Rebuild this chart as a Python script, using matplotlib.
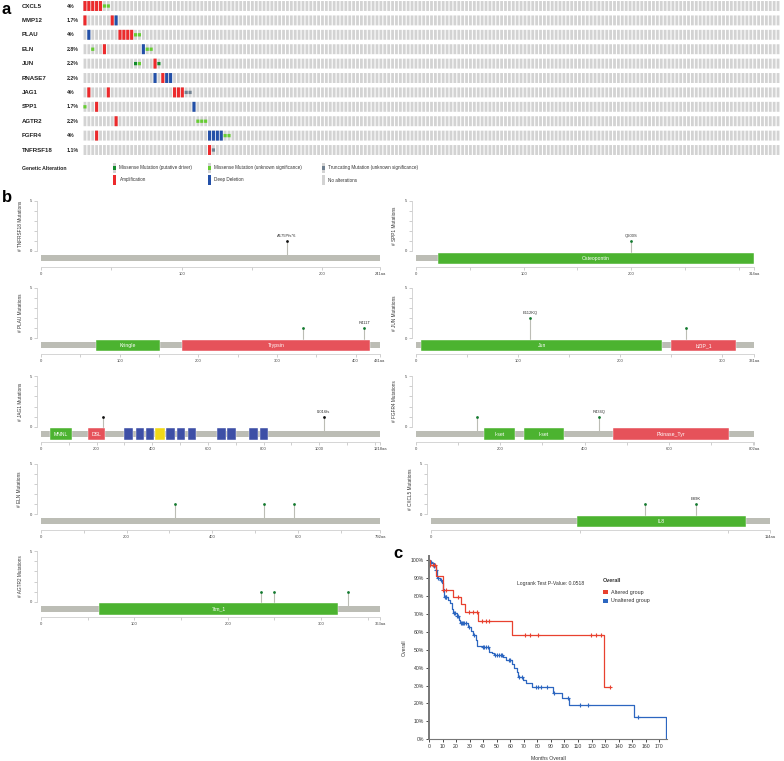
import numpy as np
import matplotlib.pyplot as plt

plt.rcParams['font.family'] = ['Liberation Sans', 'DejaVu Sans']

W, H = 784, 761
fig = plt.figure(figsize=(W / 100, H / 100), dpi=100)


def px_axes(l, t, r, b):
    ax = fig.add_axes([l / W, 1 - b / H, (r - l) / W, (b - t) / H])
    ax.patch.set_alpha(0)
    return ax


# ---------------- data: oncoprint (a) ----------------
n_samples = 179
genes = ['CXCL5', 'MMP12', 'PLAU', 'ELN', 'JUN', 'RNASE7', 'JAG1', 'SPP1', 'AGTR2', 'FGFR4', 'TNFRSF18']
pcts = ['4%', '1.7%', '4%', '2.8%', '2.2%', '2.2%', '4%', '1.7%', '2.2%', '4%', '1.1%']
amp = {'CXCL5': [0, 1, 2, 3, 4], 'MMP12': [0, 7], 'PLAU': [9, 10, 11, 12], 'ELN': [5], 'JUN': [18],
       'RNASE7': [20], 'JAG1': [1, 6, 23, 24, 25], 'SPP1': [3], 'AGTR2': [8], 'FGFR4': [3], 'TNFRSF18': [32]}
deep_del = {'MMP12': [8], 'PLAU': [1], 'ELN': [15], 'RNASE7': [18, 21, 22], 'SPP1': [28], 'FGFR4': [32, 33, 34, 35]}
mis_driver = {'JUN': [13, 19]}
mis_unknown = {'CXCL5': [5, 6], 'PLAU': [13, 14], 'ELN': [2, 16, 17], 'JUN': [14], 'SPP1': [0],
               'AGTR2': [29, 30, 31], 'FGFR4': [36, 37]}
trunc = {'JAG1': [26, 27], 'TNFRSF18': [33]}

# ---------------- data: lollipops (b) ----------------
TNFRSF18_len, TNFRSF18_dom = 241, []
TNFRSF18_mut = [(175, 1, 'trunc', 'A175Pfs*6')]
SPP1_len, SPP1_dom = 314, [('Osteopontin', 20, 314, 'green')]
SPP1_mut = [(200, 1, 'mis', 'Q200S')]
PLAU_len, PLAU_dom = 431, [('Kringle', 70, 151, 'green'), ('Trypsin', 179, 418, 'red')]
PLAU_mut = [(333, 1, 'mis', ''), (411, 1, 'mis', 'R411T')]
JUN_len, JUN_dom = 331, [('Jun', 5, 241, 'green'), ('bZIP_1', 250, 313, 'red')]
JUN_mut = [(112, 2, 'mis', 'E112KQ'), (264, 1, 'mis', '')]
JAG1_len = 1218
JAG1_dom = [('MNNL', 32, 110, 'green'), ('DSL', 168, 230, 'red'),
            ('', 300, 332, 'blue'), ('', 340, 370, 'blue'), ('', 378, 407, 'blue'), ('', 411, 445, 'yellow'),
            ('', 448, 482, 'blue'), ('', 490, 519, 'blue'), ('', 529, 558, 'blue'), ('', 633, 664, 'blue'),
            ('', 670, 701, 'blue'), ('', 748, 778, 'blue'), ('', 786, 815, 'blue')]
JAG1_mut = [(222, 1, 'trunc', ''), (1016, 1, 'trunc', 'I1016fs')]
FGFR4_len = 802
FGFR4_dom = [('I-set', 161, 236, 'green'), ('I-set', 256, 350, 'green'), ('Pkinase_Tyr', 467, 743, 'red')]
FGFR4_mut = [(144, 1, 'mis', ''), (434, 1, 'mis', 'R434Q')]
ELN_len, ELN_dom = 792, []
ELN_mut = [(313, 1, 'mis', ''), (522, 1, 'mis', ''), (591, 1, 'mis', '')]
CXCL5_len, CXCL5_dom = 114, [('IL8', 49, 106, 'green')]
CXCL5_mut = [(72, 1, 'mis', ''), (89, 1, 'mis', 'E89K')]
AGTR2_len, AGTR2_dom = 363, [('7tm_1', 62, 318, 'green')]
AGTR2_mut = [(236, 1, 'mis', ''), (250, 1, 'mis', ''), (329, 1, 'mis', '')]

# ---------------- data: Kaplan-Meier (c) ----------------
alt_t = [0, 0.5, 5.0, 10.0, 18.0, 23.4, 26.6, 36.4, 61.5, 129.2]
alt_s = [100, 97.4, 90.8, 83.5, 79.6, 75.3, 71.2, 66.0, 58.4, 29.2]
alt_cens = [0.7, 3.2, 4.4, 10.6, 12.5, 21.6, 29.8, 32.2, 35.7, 39.4, 41.8, 44.5,
            71.1, 74.6, 80.2, 119.6, 123.3, 126.7, 133.9]
unalt_t = [0, 0.7, 2.0, 3.7, 5.2, 6.2, 8.1, 9.4, 10.1, 11.3, 13.8, 15.5, 17.0, 18.0, 20.4, 22.4, 23.0,
           29.0, 31.0, 32.2, 34.4, 35.7, 38.9, 44.5, 46.2, 48.0, 54.9, 56.8, 61.0, 63.0, 64.7, 66.0,
           69.6, 71.6, 75.8, 91.8, 98.0, 103.6, 151.6, 174.7]
unalt_s = [100, 99.1, 98.1, 96.7, 94.4, 89.8, 88.8, 87.0, 83.6, 79.2, 77.7, 75.8, 72.5, 70.6, 68.8, 66.5, 64.7,
           62.5, 60.6, 58.2, 55.4, 52.0, 51.3, 48.9, 48.0, 47.0, 46.1, 44.2, 42.0, 39.6, 37.7, 34.9,
           33.1, 31.2, 29.0, 26.0, 22.9, 19.1, 12.6, 0]
unalt_cens = [0.9, 1.5, 3.9, 5.5, 6.9, 8.6, 11.8, 12.3, 12.8, 18.3, 18.9, 20.6, 21.4, 23.4, 24.4, 25.4, 26.1,
              27.0, 29.8, 32.9, 39.6, 40.8, 41.8, 43.3, 49.0, 50.0, 51.9, 53.1, 53.9, 58.8, 59.8, 66.4,
              68.4, 79.0, 80.7, 82.4, 86.9, 92.3, 102.4, 111.5, 117.6, 154.5]

C = {'green': '#4cb330', 'red': '#e6525a', 'blue': '#3d4fa6', 'yellow': '#f0d818'}
GREY_BAR = '#bcbdb5'

# overlay in pixel coordinates for free text
ov = px_axes(0, 0, W, H)
ov.set_xlim(0, W)
ov.set_ylim(H, 0)
ov.axis('off')

ov.text(2, 9, 'a', fontsize=12, weight='bold', va='center')
ov.text(2, 198, 'b', fontsize=12, weight='bold', va='center')
ov.text(393, 554, 'c', fontsize=12, weight='bold', va='center')

# ---------------- panel a ----------------
ax = px_axes(83, 0.96, 780, 156.5)
ax.set_xlim(0, n_samples)
ax.set_ylim(10.45, -0.35)
ax.axis('off')
cols = np.arange(n_samples)
cw = 697 / n_samples
for i, g in enumerate(genes):
    ax.bar(cols + 0.5, 0.69, bottom=i - 0.345, width=0.72, color='#d3d3d3', lw=0, snap=False)
    for d, col in [(amp, '#ec2a2c'), (deep_del, '#2350a8')]:
        idx = np.array(d.get(g, []))
        if len(idx):
            ax.bar(idx + 0.5, 0.69, bottom=i - 0.345, width=0.8, color=col, lw=0, snap=False)
    for d, col in [(mis_driver, '#128a2c'), (mis_unknown, '#66cc33'), (trunc, '#708090')]:
        idx = np.array(d.get(g, []))
        if len(idx):
            ax.bar(idx + 0.5, 0.23, bottom=i - 0.115, width=0.8, color=col, lw=0, snap=False)
    ax.text((22 - 83) / cw, i, g, fontsize=4.4, weight='bold', color='#222', va='center', clip_on=False)
    ax.text((66.5 - 83) / cw, i, pcts[i], fontsize=3.8, weight='bold', color='#222', va='center', clip_on=False)

# legend of panel a
ov.text(22, 168, 'Genetic Alteration', fontsize=3.7, weight='bold', color='#222', va='center')
leg_items = [(115, 168, '#128a2c', True, 'Missense Mutation (putative driver)'),
             (210, 168, '#66cc33', True, 'Missense Mutation (unknown significance)'),
             (324, 168, '#708090', True, 'Truncating Mutation (unknown significance)'),
             (115, 180, '#ec2a2c', False, 'Amplification'),
             (210, 180, '#2350a8', False, 'Deep Deletion'),
             (324, 180, '#d3d3d3', False, 'No alterations')]
for x, y, col, small, lab in leg_items:
    if small:
        ov.add_patch(plt.Rectangle((x - 1.5, y - 5), 3, 10, color='#d3d3d3', lw=0))
        ov.add_patch(plt.Rectangle((x - 1.5, y - 1.7), 3, 3.4, color=col, lw=0))
    else:
        ov.add_patch(plt.Rectangle((x - 1.5, y - 5), 3, 10, color=col, lw=0))
    ov.text(x + 4.5, y, lab, fontsize=3.3, color='#333', va='center')


# ---------------- panel b ----------------
def lollipop(name, x0, x1, y0, length, domains, muts, major, minor):
    u = 10.1
    s = (x1 - x0) / length
    ax = px_axes(x0 - 30, y0 - 5.6 * u, x1 + 20, y0 + 2.6 * u)
    ax.set_xlim(-30 / s, length + 20 / s)
    ax.set_ylim(-2.6, 5.6)
    for sp in ['top', 'right']:
        ax.spines[sp].set_visible(False)
    ax.spines['left'].set_position(('data', -4 / s))
    ax.spines['left'].set_bounds(0, 5)
    ax.spines['bottom'].set_position(('data', -1.55))
    ax.spines['bottom'].set_bounds(0, length)
    for sp in ['left', 'bottom']:
        ax.spines[sp].set_color('#cfcfcf')
        ax.spines[sp].set_linewidth(0.6)
    ax.set_yticks(range(6), ['0', '', '', '', '', '5'])
    if major:
        xt = list(range(0, length - major // 4, major)) + [length]
    else:
        xt = [0, length]
    ax.set_xticks(xt, [str(v) for v in xt[:-1]] + [f'{length}aa'])
    ax.set_xticks([v for v in range(minor, length, minor) if v not in xt], minor=True)
    ax.tick_params(axis='both', which='both', length=2, width=0.5, color='#bbbbbb',
                   labelsize=3, labelcolor='#444', pad=1.5)

    ax.barh(-0.7, length, height=0.6, left=0, color=GREY_BAR, lw=0, zorder=2)
    for lab, a, b, c in domains:
        ax.barh(-0.735, b - a, height=1.12, left=a, color=C[c], edgecolor='white', lw=0.3, zorder=3)
        if lab:
            ax.text((a + b) / 2, -0.735, lab, fontsize=3.7, color='white', ha='center', va='center', zorder=4)
    for pos, cnt, kind, lab in muts:
        ax.vlines(pos, -0.4, cnt, color=GREY_BAR, lw=0.8, zorder=1)
        ax.plot(pos, cnt, 'o', ms=2.0, mew=0, color='#111111' if kind == 'trunc' else '#137a2f', zorder=5)
        if lab:
            ax.text(pos, cnt + 0.3, lab, fontsize=3, color='#333', ha='center', va='bottom')
    ax.text(-21 / s, 2.5, f'# {name} Mutations', fontsize=3.4, color='#333', rotation=90,
            ha='center', va='center')


LX0, LX1, RX0, RX1 = 41, 380, 416, 754
rows_y = [251, 338.3, 426.7, 514.3, 601.7]
lollipop('TNFRSF18', LX0, LX1, rows_y[0], TNFRSF18_len, TNFRSF18_dom, TNFRSF18_mut, 100, 50)
lollipop('PLAU', LX0, LX1, rows_y[1], PLAU_len, PLAU_dom, PLAU_mut, 100, 50)
lollipop('JAG1', LX0, LX1, rows_y[2], JAG1_len, JAG1_dom, JAG1_mut, 200, 100)
lollipop('ELN', LX0, LX1, rows_y[3], ELN_len, ELN_dom, ELN_mut, 200, 100)
lollipop('AGTR2', LX0, LX1, rows_y[4], AGTR2_len, AGTR2_dom, AGTR2_mut, 100, 50)
lollipop('SPP1', RX0, RX1, rows_y[0], SPP1_len, SPP1_dom, SPP1_mut, 100, 50)
lollipop('JUN', RX0, RX1, rows_y[1], JUN_len, JUN_dom, JUN_mut, 100, 50)
lollipop('FGFR4', RX0, RX1, rows_y[2], FGFR4_len, FGFR4_dom, FGFR4_mut, 200, 100)
lollipop('CXCL5', 431, 770, rows_y[3], CXCL5_len, CXCL5_dom, CXCL5_mut, None, 50)

# ---------------- panel c ----------------
km = px_axes(429, 560 - 2 * 1.793, 429 + 176 * 1.3547, 739.3)
km.set_xlim(0, 176)
km.set_ylim(0, 102)
RED, BLUE = '#e8412f', '#2c66c0'


def surv_at(t, s, ct):
    idx = np.searchsorted(t, ct, side='right') - 1
    return np.asarray(s)[idx]


km.step(unalt_t, unalt_s, where='post', color=BLUE, lw=0.9)
km.plot(unalt_cens, surv_at(unalt_t, unalt_s, unalt_cens), '+', color=BLUE, ms=3, mew=0.8)
km.step(alt_t + [alt_cens[-1]], alt_s + [alt_s[-1]], where='post', color=RED, lw=0.9)
km.plot(alt_cens, surv_at(alt_t, alt_s, alt_cens), '+', color=RED, ms=3, mew=0.8)

for sp in ['top', 'right']:
    km.spines[sp].set_visible(False)
km.spines['left'].set_color('#777777')
km.spines['left'].set_linewidth(1.4)
km.spines['bottom'].set_color('#777777')
km.spines['bottom'].set_linewidth(0.8)
km.set_xticks(range(0, 171, 10))
km.set_yticks(range(0, 101, 10), [f'{v}%' for v in range(0, 101, 10)])
km.tick_params(length=2, width=0.5, labelsize=3.7, labelcolor='#333', pad=1.5)
km.set_xlabel('Months Overall', fontsize=3.7, color='#333', labelpad=5)
km.set_ylabel('Overall', fontsize=3.7, color='#333', labelpad=3)

ov.text(517, 583, 'Logrank Test P-Value: 0.0518', fontsize=3.7, color='#333', va='center')
ov.text(603, 581, 'Overall', fontsize=3.9, weight='bold', color='#333', va='center')
for y, col, lab in [(592.3, RED, 'Altered group'), (600.7, BLUE, 'Unaltered group')]:
    ov.add_patch(plt.Rectangle((603.5, y - 2.2), 4.4, 4.4, color=col, lw=0))
    ov.text(611, y, lab, fontsize=3.9, color='#333', va='center')

fig.savefig('out.png', dpi=100)
